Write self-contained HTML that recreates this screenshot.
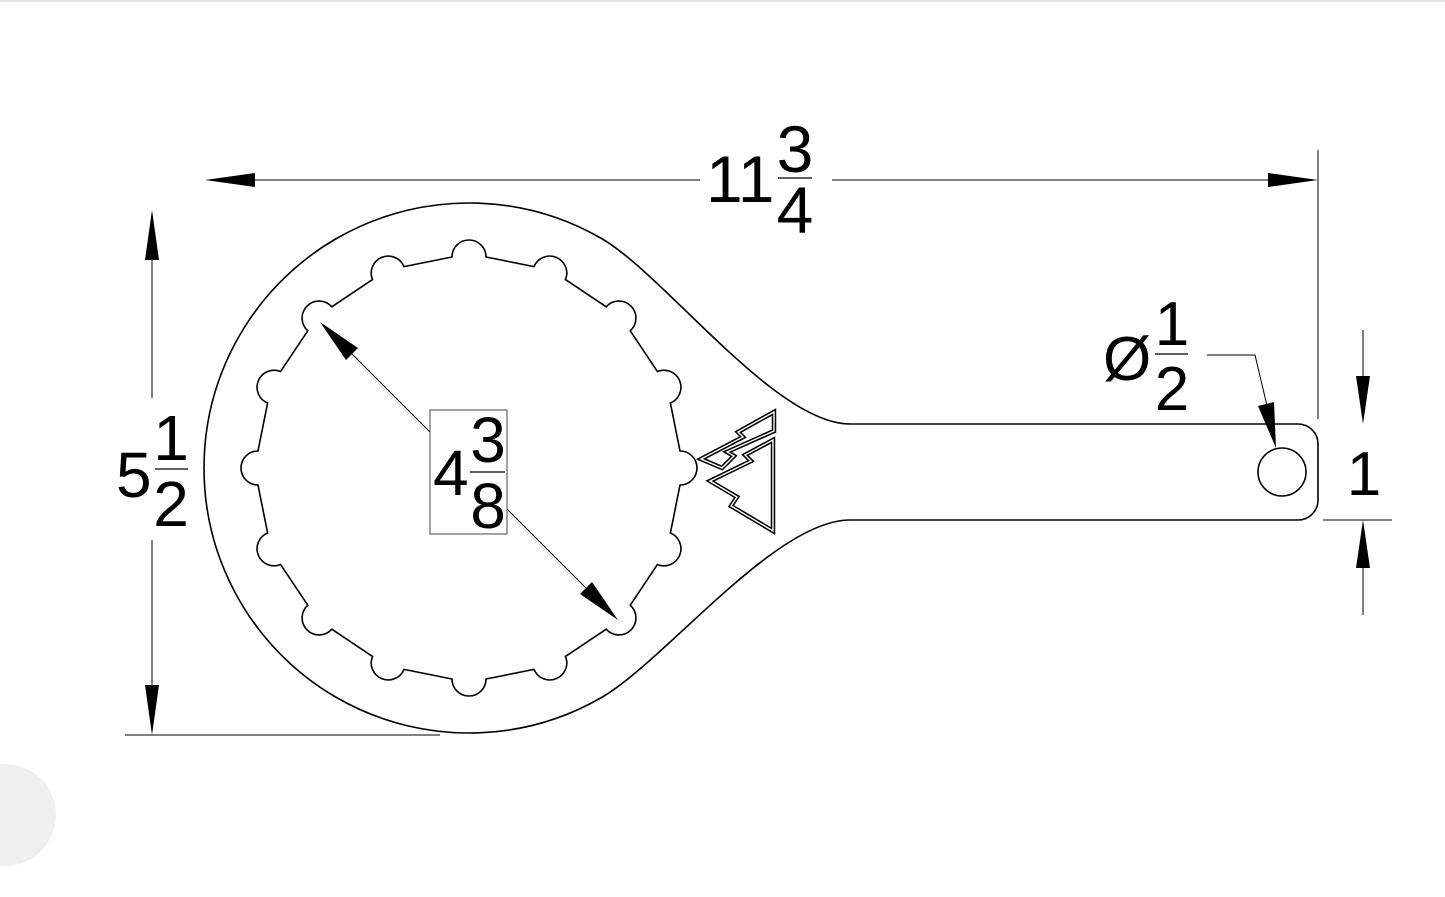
<!DOCTYPE html>
<html><head><meta charset="utf-8"><style>
html,body{margin:0;padding:0;background:#fff;width:1445px;height:897px;overflow:hidden}
svg{display:block}
text{font-family:"Liberation Sans",sans-serif;fill:#000}
</style></head><body>
<svg width="1445" height="897" viewBox="0 0 1445 897" xmlns="http://www.w3.org/2000/svg">
<rect x="0" y="0" width="1445" height="2" fill="#e4e4e4"/>
<circle cx="5" cy="815" r="51" fill="#efefef"/>
<path d="M601.5,238.5 C665,275 775,424 850,424 L1298,424 A20,20 0 0 1 1318,444 L1318,500 A20,20 0 0 1 1298,520 L850,520 C775,520 665,661 601.5,697.5 A265,265 0 1 1 601.5,238.5 Z" fill="none" stroke="#000" stroke-width="1.6"/>
<circle cx="1282" cy="472" r="24" fill="none" stroke="#000" stroke-width="1.6"/>
<path id="notch" fill="none" stroke="#000" stroke-width="1.6"/>
<g fill="none" stroke="#000" stroke-width="4.5" stroke-linejoin="miter">
<polygon points="773,440 745,455 751,461 710,481 737,497 731,506 773,531"/>
<polygon points="774,412 738,432 743,437 701,459 722,468 734,456 727,452 774,431"/>
</g>
<g fill="none" stroke="#fff" stroke-width="1.4">
<polygon points="773,440 745,455 751,461 710,481 737,497 731,506 773,531"/>
<polygon points="774,412 738,432 743,437 701,459 722,468 734,456 727,452 774,431"/>
</g>
<g stroke="#000" stroke-width="1" fill="none">
<line x1="230" y1="180" x2="700" y2="180"/>
<line x1="832" y1="180" x2="1295" y2="180"/>
<line x1="1318" y1="150" x2="1318" y2="419"/>
<line x1="152" y1="235" x2="152" y2="398"/>
<line x1="152" y1="540" x2="152" y2="712"/>
<line x1="125" y1="735" x2="440" y2="735"/>
<line x1="1363" y1="330" x2="1363" y2="380"/>
<line x1="1363" y1="565" x2="1363" y2="615"/>
<line x1="1323" y1="520" x2="1392" y2="520"/>
<line x1="340" y1="342" x2="600" y2="602"/>
<polyline points="1207,355 1255,355 1268,410"/>
</g>
<g fill="#000">
<polygon points="205,180 255,173 255,187"/>
<polygon points="1318,180 1268,173 1268,187"/>
<polygon points="152,210 145,260 159,260"/>
<polygon points="152,735 145,685 159,685"/>
<polygon points="1363,424 1356,376 1370,376"/>
<polygon points="1363,520 1356,568 1370,568"/>
<polygon points="320,322 346,360 358,348"/>
<polygon points="618,620 580,594 592,582"/>
<polygon points="1276,448 1274,402 1258,406"/>
</g>
<rect x="430" y="410" width="77" height="124" fill="#fff" stroke="#444" stroke-width="1"/>
<text x="433" y="495" font-size="64">4</text>
<text x="488" y="462" font-size="64" text-anchor="middle">3</text>
<line x1="470" y1="472" x2="505" y2="472" stroke="#000" stroke-width="1.2"/>
<text x="488" y="528" font-size="64" text-anchor="middle">8</text>

<text x="706" y="202" font-size="66">11</text>
<text x="795" y="172" font-size="66" text-anchor="middle">3</text>
<line x1="778" y1="178" x2="812" y2="178" stroke="#000" stroke-width="1.2"/>
<text x="795" y="233" font-size="66" text-anchor="middle">4</text>

<text x="116" y="497" font-size="64">5</text>
<text x="171" y="460" font-size="64" text-anchor="middle">1</text>
<line x1="155" y1="469" x2="188" y2="469" stroke="#000" stroke-width="1.2"/>
<text x="171" y="526" font-size="64" text-anchor="middle">2</text>

<text x="1103" y="380" font-size="62">Ø</text>
<text x="1172" y="345" font-size="62" text-anchor="middle">1</text>
<line x1="1155" y1="354" x2="1188" y2="354" stroke="#000" stroke-width="1.2"/>
<text x="1172" y="410" font-size="62" text-anchor="middle">2</text>

<text x="1364" y="495" font-size="62" text-anchor="middle">1</text>
</svg>
<script>
(function(){
var cx=469,cy=468,R=211,r=17,n=16,d="";
for(var i=0;i<n;i++){
 var a=i*2*Math.PI/n;
 var bx=cx+R*Math.cos(a),by=cy+R*Math.sin(a);
 var ax=bx+r*Math.cos(a-Math.PI/2),ay=by+r*Math.sin(a-Math.PI/2);
 var ex=bx+r*Math.cos(a+Math.PI/2),ey=by+r*Math.sin(a+Math.PI/2);
 d+=(i==0?"M":"L")+ax.toFixed(1)+","+ay.toFixed(1)+" A"+r+","+r+" 0 1 1 "+ex.toFixed(1)+","+ey.toFixed(1)+" ";
}
d+="Z";
document.getElementById("notch").setAttribute("d",d);
})();
</script>
</body></html>
